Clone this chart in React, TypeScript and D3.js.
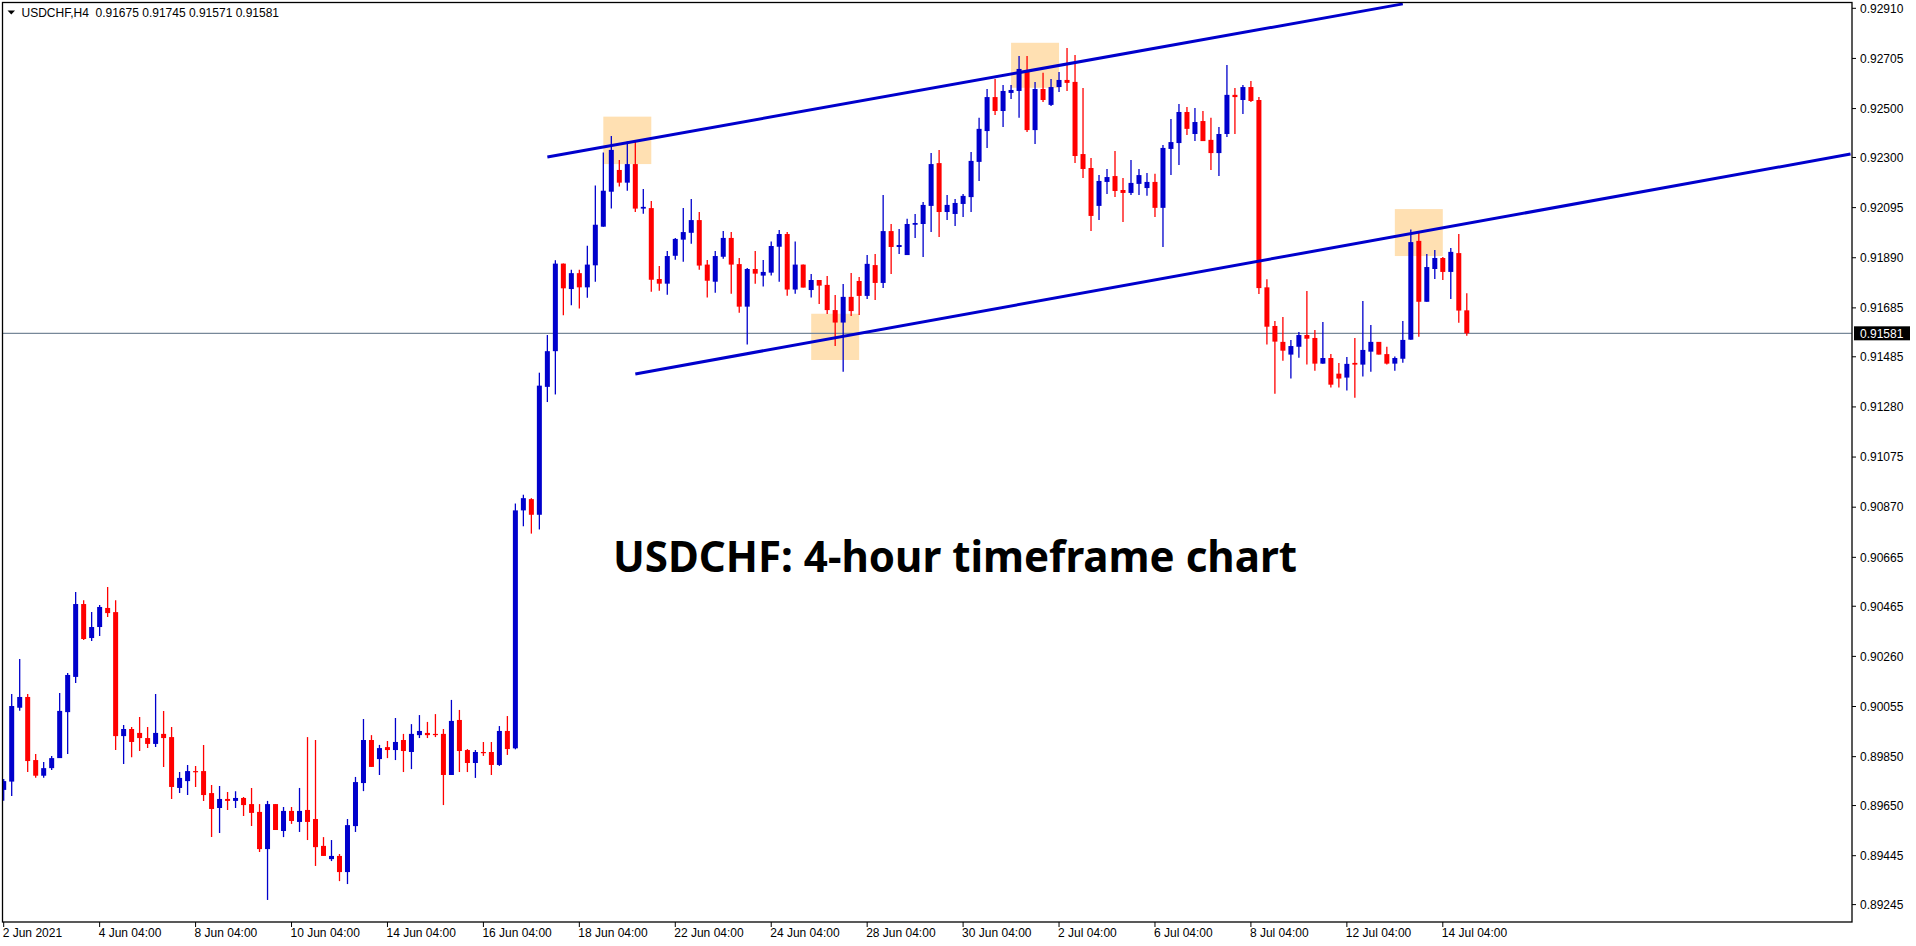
import * as d3 from 'd3';

// USDCHF H4 candles, first bar = 2 Jun 2021 04:00
const opens = [
  0.89714, 0.89748, 0.90050, 0.90094, 0.89836, 0.89772, 0.89803, 0.89844, 0.90032, 0.90176,
  0.90474, 0.90335, 0.90380, 0.90458, 0.90441, 0.89934, 0.89963, 0.89947, 0.89926, 0.89902,
  0.89943, 0.89930, 0.89722, 0.89750, 0.89791, 0.89791, 0.89701, 0.89640, 0.89677, 0.89669,
  0.89681, 0.89656, 0.89624, 0.89472, 0.89656, 0.89546, 0.89628, 0.89583, 0.89632, 0.89595,
  0.89485, 0.89431, 0.89444, 0.89378, 0.89566, 0.89742, 0.89918, 0.89840, 0.89889, 0.89877,
  0.89918, 0.89869, 0.89938, 0.89947, 0.89943, 0.89943, 0.89775, 0.90000, 0.89877, 0.89824,
  0.89869, 0.89869, 0.89816, 0.89955, 0.89884, 0.90857, 0.90903, 0.90839, 0.91362, 0.91508,
  0.91866, 0.91762, 0.91827, 0.91769, 0.91859, 0.92017, 0.92160, 0.92249, 0.92197, 0.92273,
  0.92091, 0.92093, 0.91803, 0.91784, 0.91898, 0.91964, 0.91992, 0.92044, 0.91862, 0.91792,
  0.91894, 0.91971, 0.91864, 0.91690, 0.91844, 0.91817, 0.91829, 0.91935, 0.91987, 0.91760,
  0.91862, 0.91758, 0.91799, 0.91779, 0.91676, 0.91625, 0.91730, 0.91795, 0.91734, 0.91860,
  0.91787, 0.91999, 0.91934, 0.91901, 0.92025, 0.92028, 0.92102, 0.92277, 0.92077, 0.92069,
  0.92110, 0.92138, 0.92282, 0.92408, 0.92547, 0.92490, 0.92564, 0.92572, 0.92652, 0.92412,
  0.92580, 0.92515, 0.92588, 0.92617, 0.92609, 0.92314, 0.92257, 0.92102, 0.92200, 0.92224,
  0.92167, 0.92155, 0.92192, 0.92175, 0.92200, 0.92094, 0.92335, 0.92359, 0.92486, 0.92396,
  0.92449, 0.92372, 0.92318, 0.92396, 0.92556, 0.92535, 0.92588, 0.92535, 0.91769, 0.91611,
  0.91546, 0.91494, 0.91526, 0.91574, 0.91562, 0.91457, 0.91480, 0.91416, 0.91400, 0.91460,
  0.91453, 0.91506, 0.91546, 0.91496, 0.91457, 0.91477, 0.91555, 0.91959, 0.91710, 0.91844,
  0.91889, 0.91832, 0.91909, 0.91675,
];
const highs = [
  0.89759, 0.90106, 0.90249, 0.90106, 0.89861, 0.89828, 0.89853, 0.90110, 0.90192, 0.90523,
  0.90490, 0.90441, 0.90470, 0.90544, 0.90490, 0.89979, 0.89971, 0.90012, 0.89971, 0.90106,
  0.90037, 0.89971, 0.89787, 0.89816, 0.89812, 0.89898, 0.89734, 0.89730, 0.89705, 0.89709,
  0.89685, 0.89722, 0.89656, 0.89669, 0.89656, 0.89644, 0.89644, 0.89722, 0.89930, 0.89918,
  0.89521, 0.89509, 0.89452, 0.89595, 0.89767, 0.90004, 0.89938, 0.89898, 0.89914, 0.90008,
  0.89943, 0.89983, 0.90020, 0.89992, 0.90024, 0.89963, 0.90082, 0.90041, 0.89881, 0.89877,
  0.89910, 0.89910, 0.89975, 0.90016, 0.90885, 0.90921, 0.90907, 0.91420, 0.91574, 0.91880,
  0.91866, 0.91841, 0.91841, 0.91939, 0.92185, 0.92320, 0.92388, 0.92290, 0.92365, 0.92365,
  0.92171, 0.92122, 0.91856, 0.91918, 0.91971, 0.92093, 0.92130, 0.92077, 0.91881, 0.91918,
  0.91999, 0.91995, 0.91889, 0.91848, 0.91918, 0.91881, 0.91956, 0.92003, 0.91995, 0.91956,
  0.91862, 0.91824, 0.91799, 0.91815, 0.91738, 0.91783, 0.91828, 0.91811, 0.91901, 0.91905,
  0.92147, 0.92028, 0.92008, 0.92049, 0.92069, 0.92118, 0.92318, 0.92331, 0.92147, 0.92130,
  0.92151, 0.92322, 0.92462, 0.92580, 0.92621, 0.92596, 0.92596, 0.92715, 0.92715, 0.92609,
  0.92646, 0.92621, 0.92650, 0.92748, 0.92719, 0.92584, 0.92298, 0.92228, 0.92253, 0.92327,
  0.92216, 0.92290, 0.92253, 0.92237, 0.92233, 0.92351, 0.92457, 0.92519, 0.92506, 0.92502,
  0.92490, 0.92462, 0.92425, 0.92678, 0.92584, 0.92596, 0.92613, 0.92547, 0.91802, 0.91631,
  0.91648, 0.91554, 0.91586, 0.91754, 0.91595, 0.91627, 0.91496, 0.91460, 0.91484, 0.91562,
  0.91713, 0.91615, 0.91546, 0.91526, 0.91486, 0.91631, 0.92006, 0.91995, 0.91905, 0.91922,
  0.91893, 0.91930, 0.91987, 0.91745,
];
const lows = [
  0.89670, 0.89689, 0.90038, 0.89787, 0.89764, 0.89764, 0.89795, 0.89844, 0.89861, 0.90151,
  0.90327, 0.90323, 0.90343, 0.90421, 0.89877, 0.89820, 0.89848, 0.89873, 0.89885, 0.89889,
  0.89808, 0.89677, 0.89701, 0.89693, 0.89726, 0.89669, 0.89521, 0.89538, 0.89632, 0.89640,
  0.89607, 0.89566, 0.89460, 0.89264, 0.89550, 0.89521, 0.89575, 0.89542, 0.89509, 0.89403,
  0.89444, 0.89423, 0.89341, 0.89329, 0.89542, 0.89709, 0.89808, 0.89775, 0.89844, 0.89836,
  0.89787, 0.89799, 0.89926, 0.89926, 0.89930, 0.89652, 0.89775, 0.89787, 0.89787, 0.89763,
  0.89853, 0.89775, 0.89812, 0.89857, 0.89880, 0.90792, 0.90762, 0.90779, 0.91300, 0.91331,
  0.91655, 0.91696, 0.91682, 0.91726, 0.91792, 0.92017, 0.92091, 0.92181, 0.92164, 0.92077,
  0.92070, 0.91751, 0.91755, 0.91739, 0.91882, 0.91874, 0.91947, 0.91841, 0.91727, 0.91747,
  0.91886, 0.91743, 0.91665, 0.91535, 0.91784, 0.91772, 0.91817, 0.91792, 0.91735, 0.91743,
  0.91768, 0.91727, 0.91701, 0.91660, 0.91529, 0.91424, 0.91652, 0.91656, 0.91721, 0.91717,
  0.91766, 0.91824, 0.91905, 0.91901, 0.91971, 0.91893, 0.91995, 0.91975, 0.92044, 0.92020,
  0.92057, 0.92077, 0.92204, 0.92339, 0.92474, 0.92425, 0.92539, 0.92462, 0.92404, 0.92355,
  0.92527, 0.92511, 0.92568, 0.92572, 0.92277, 0.92216, 0.91999, 0.92044, 0.92151, 0.92138,
  0.92036, 0.92147, 0.92147, 0.92143, 0.92057, 0.91934, 0.92228, 0.92269, 0.92392, 0.92367,
  0.92367, 0.92249, 0.92224, 0.92384, 0.92396, 0.92478, 0.92527, 0.91742, 0.91535, 0.91334,
  0.91469, 0.91396, 0.91481, 0.91453, 0.91428, 0.91457, 0.91359, 0.91359, 0.91347, 0.91318,
  0.91404, 0.91424, 0.91494, 0.91453, 0.91428, 0.91461, 0.91555, 0.91567, 0.91710, 0.91803,
  0.91799, 0.91721, 0.91624, 0.91571,
];
const closes = [
  0.89750, 0.90057, 0.90094, 0.89832, 0.89772, 0.89803, 0.89844, 0.90037, 0.90184, 0.90474,
  0.90331, 0.90380, 0.90462, 0.90437, 0.89934, 0.89963, 0.89910, 0.89926, 0.89902, 0.89947,
  0.89926, 0.89726, 0.89763, 0.89791, 0.89787, 0.89693, 0.89636, 0.89677, 0.89669, 0.89681,
  0.89652, 0.89620, 0.89472, 0.89656, 0.89550, 0.89628, 0.89587, 0.89628, 0.89583, 0.89480,
  0.89444, 0.89444, 0.89378, 0.89570, 0.89746, 0.89918, 0.89808, 0.89885, 0.89877, 0.89910,
  0.89873, 0.89943, 0.89955, 0.89938, 0.89938, 0.89775, 0.89996, 0.89873, 0.89824, 0.89869,
  0.89865, 0.89816, 0.89955, 0.89881, 0.90857, 0.90907, 0.90839, 0.91367, 0.91508, 0.91866,
  0.91765, 0.91827, 0.91769, 0.91862, 0.92025, 0.92164, 0.92331, 0.92197, 0.92273, 0.92091,
  0.92098, 0.91800, 0.91784, 0.91897, 0.91967, 0.91995, 0.92044, 0.91858, 0.91796, 0.91897,
  0.91971, 0.91862, 0.91690, 0.91844, 0.91825, 0.91832, 0.91938, 0.91987, 0.91760, 0.91862,
  0.91768, 0.91799, 0.91776, 0.91676, 0.91625, 0.91730, 0.91672, 0.91734, 0.91865, 0.91787,
  0.91999, 0.91934, 0.91942, 0.92028, 0.92032, 0.92106, 0.92273, 0.92077, 0.92106, 0.92114,
  0.92143, 0.92286, 0.92417, 0.92547, 0.92490, 0.92572, 0.92576, 0.92662, 0.92412, 0.92580,
  0.92535, 0.92588, 0.92617, 0.92605, 0.92306, 0.92253, 0.92061, 0.92204, 0.92220, 0.92163,
  0.92155, 0.92196, 0.92228, 0.92200, 0.92094, 0.92339, 0.92363, 0.92486, 0.92417, 0.92445,
  0.92367, 0.92318, 0.92396, 0.92556, 0.92547, 0.92588, 0.92531, 0.91766, 0.91608, 0.91547,
  0.91510, 0.91529, 0.91574, 0.91559, 0.91457, 0.91480, 0.91371, 0.91396, 0.91456, 0.91453,
  0.91513, 0.91546, 0.91494, 0.91457, 0.91480, 0.91554, 0.91954, 0.91710, 0.91852, 0.91889,
  0.91832, 0.91914, 0.91674, 0.91581,
];

const priceTicks = [
  '0.92910', '0.92705', '0.92500', '0.92300', '0.92095', '0.91890', '0.91685', '0.91485',
  '0.91280', '0.91075', '0.90870', '0.90665', '0.90465', '0.90260', '0.90055', '0.89850',
  '0.89650', '0.89445', '0.89245',
];
const timeLabels = [
  '2 Jun 2021', '4 Jun 04:00', '8 Jun 04:00', '10 Jun 04:00', '14 Jun 04:00', '16 Jun 04:00',
  '18 Jun 04:00', '22 Jun 04:00', '24 Jun 04:00', '28 Jun 04:00', '30 Jun 04:00', '2 Jul 04:00',
  '6 Jul 04:00', '8 Jul 04:00', '12 Jul 04:00', '14 Jul 04:00',
];
const labelEvery = 12; // bars between time labels

// channel lines: [bar, price] anchors
const upperLine: [number, number][] = [[68, 0.92302], [175, 0.92928]];
const lowerLine: [number, number][] = [[79, 0.91415], [231, 0.92314]];

// highlighted zones
const zoneStart = [75, 101, 126, 174];
const zoneEnd = [81, 107, 132, 180];
const zoneTop = [0.92467, 0.91661, 0.92769, 0.92089];
const zoneBottom = [0.92273, 0.91472, 0.92585, 0.91897];

const symbol = 'USDCHF,H4';
const title = 'USDCHF: 4-hour timeframe chart';

const W = 1916;
const H = 946;
const plot = { left: 2.5, top: 2.5, right: 1852, bottom: 922 };
const BLUE = '#0000CC';
const RED = '#FF0000';
const FONT = '"Liberation Sans", Arial, sans-serif';

export default function App() {
  const x = d3.scaleLinear().domain([0, 180]).range([3.7, 1442.8]);
  const y = d3.scaleLinear().domain([0.89245, 0.9291]).range([904.6, 8.3]);

  const last = closes[closes.length - 1];
  const lastIdx = opens.length - 1;
  const line = d3.line<[number, number]>().x((d) => x(d[0])).y((d) => y(d[1]));

  return (
    <svg
      width={W}
      height={H}
      style={{ position: 'absolute', left: 0, top: 0, background: '#fff' }}
      fontFamily={FONT}
    >
      <defs>
        <clipPath id="plotClip">
          <rect x={plot.left} y={plot.top} width={plot.right - plot.left} height={plot.bottom - plot.top} />
        </clipPath>
      </defs>
      <rect x={0} y={0} width={W} height={H} fill="#fff" />

      <g clipPath="url(#plotClip)">
        {zoneStart.map((s, k) => (
          <rect
            key={'z' + k}
            x={x(s)}
            y={y(zoneTop[k])}
            width={x(zoneEnd[k]) - x(s)}
            height={y(zoneBottom[k]) - y(zoneTop[k])}
            fill="#FFE0B2"
          />
        ))}
        <line x1={plot.left} x2={plot.right} y1={y(last)} y2={y(last)} stroke="#778899" strokeWidth={1.2} />

        {opens.map((o, i) => {
          const c = closes[i];
          const col = c >= o ? BLUE : RED;
          const cx = x(i);
          const top = y(Math.max(o, c));
          const bot = y(Math.min(o, c));
          return (
            <g key={i}>
              <line x1={cx} x2={cx} y1={y(highs[i])} y2={y(lows[i])} stroke={col} strokeWidth={1.3} />
              <rect x={cx - 2.5} y={top} width={5} height={Math.max(1.2, bot - top)} fill={col} />
            </g>
          );
        })}

        <path d={line(upperLine) || ''} stroke={BLUE} strokeWidth={3} fill="none" />
        <path d={line(lowerLine) || ''} stroke={BLUE} strokeWidth={3} fill="none" />

        <text
          x={613}
          y={572}
          fontFamily='"Noto Sans", "Open Sans", sans-serif'
          fontWeight="bold"
          fontSize={43}
          textLength={684}
          lengthAdjust="spacingAndGlyphs"
          fill="#000"
        >
          {title}
        </text>
      </g>

      {/* header */}
      <path d="M7.5,10.5 L15,10.5 L11.25,14.5 Z" fill="#000" />
      <text x={21.5} y={17} fontSize={12} fill="#000">
        {symbol}
        {'\u00a0\u00a0'}
        {[opens[lastIdx], highs[lastIdx], lows[lastIdx], closes[lastIdx]].map((v) => v.toFixed(5)).join(' ')}
      </text>

      {/* frame */}
      <rect
        x={plot.left}
        y={plot.top}
        width={plot.right - plot.left}
        height={plot.bottom - plot.top}
        fill="none"
        stroke="#000"
        strokeWidth={1.3}
      />

      {/* price axis */}
      {priceTicks.map((t) => {
        const py = y(+t);
        return (
          <g key={t}>
            <line x1={plot.right} x2={plot.right + 4} y1={py} y2={py} stroke="#000" strokeWidth={1} />
            <text x={1860} y={py + 4.3} fontSize={12} fill="#000">
              {t}
            </text>
          </g>
        );
      })}
      <rect x={1854} y={y(last) - 7} width={56} height={14} fill="#000" />
      <text x={1860} y={y(last) + 4.3} fontSize={12} fill="#fff">
        {last.toFixed(5)}
      </text>

      {/* time axis */}
      {timeLabels.map((t, k) => {
        const px = x(k * labelEvery);
        return (
          <g key={t}>
            <line x1={px} x2={px} y1={plot.bottom} y2={plot.bottom + 5} stroke="#000" strokeWidth={1} />
            <text x={px - 1} y={937} fontSize={12} fill="#000">
              {t}
            </text>
          </g>
        );
      })}
    </svg>
  );
}
